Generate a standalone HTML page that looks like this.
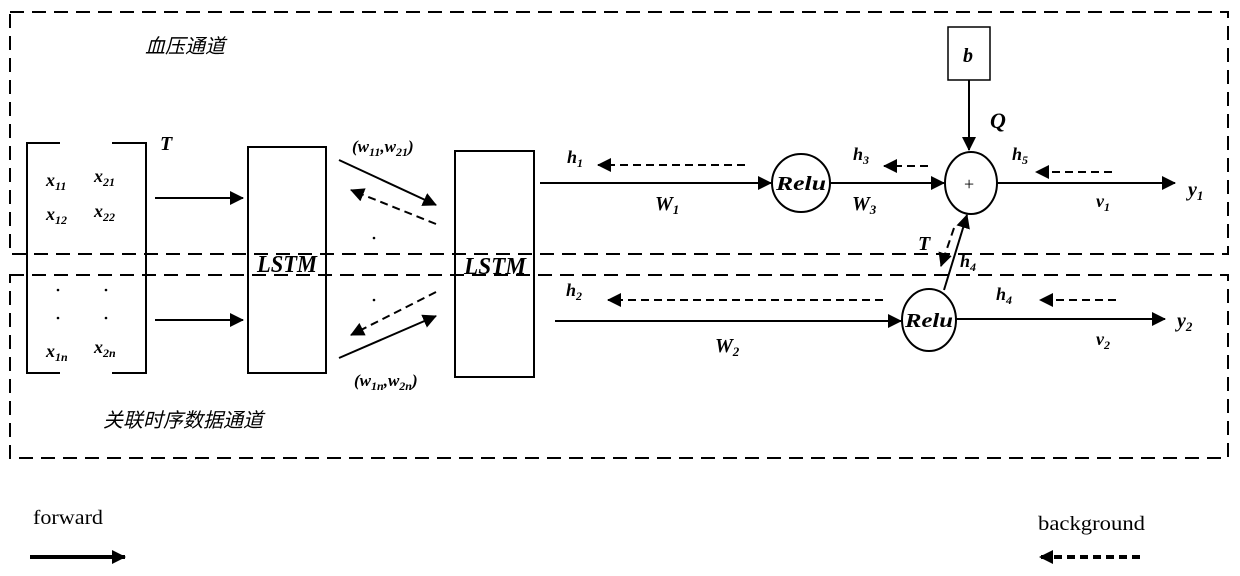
<!DOCTYPE html>
<html><head><meta charset="utf-8"><style>
html,body{margin:0;padding:0;background:#fff;}
svg{display:block;}
.l{font-family:"Liberation Serif",serif;font-style:italic;font-weight:bold;fill:#000;}
.c{font-family:"Liberation Sans","Noto Sans CJK SC",sans-serif;font-style:italic;fill:#000;}
.n{font-family:"Liberation Serif",serif;fill:#000;}
</style></head><body>
<svg width="1240" height="576" viewBox="0 0 1240 576" xmlns="http://www.w3.org/2000/svg">
<defs>
<marker id="b" markerWidth="14" markerHeight="14" refX="13" refY="7" orient="auto" markerUnits="userSpaceOnUse"><path d="M0,0 L14,7 L0,14 z" fill="#000"/></marker>
</defs>
<g fill="none" stroke="#000" stroke-width="2" stroke-dasharray="14,8">
<rect x="10" y="12" width="1218" height="242"/>
<rect x="10" y="275" width="1218" height="183"/>
</g>
<g fill="none" stroke="#000" stroke-width="2">
<path d="M60,143 H27 V373 H60"/>
<path d="M112,143 H146 V373 H112"/>
<rect x="248" y="147" width="78" height="226"/>
<rect x="455" y="151" width="79" height="226"/>
<rect x="948" y="27" width="42" height="53" stroke-width="1.5"/>
<ellipse cx="801" cy="183" rx="29" ry="29"/>
<ellipse cx="971" cy="183" rx="26" ry="31"/>
<ellipse cx="929" cy="320" rx="27" ry="31"/>
</g>
<g stroke="#000" stroke-width="2" fill="none" marker-end="url(#b)">
<line x1="155" y1="198" x2="243" y2="198"/>
<line x1="155" y1="320" x2="243" y2="320"/>
<line x1="339" y1="160" x2="436" y2="205"/>
<line x1="339" y1="358" x2="436" y2="316"/>
<line x1="540" y1="183" x2="771" y2="183"/>
<line x1="830" y1="183" x2="944" y2="183"/>
<line x1="997" y1="183" x2="1175" y2="183"/>
<line x1="969" y1="80" x2="969" y2="150"/>
<line x1="555" y1="321" x2="901" y2="321"/>
<line x1="956" y1="319" x2="1165" y2="319"/>
<line x1="944" y1="290" x2="967" y2="215"/>
<line x1="30" y1="557" x2="125" y2="557" stroke-width="4"/>
</g>
<g stroke="#000" stroke-width="2" fill="none" stroke-dasharray="8,5" marker-end="url(#b)">
<line x1="436" y1="224" x2="351" y2="190"/>
<line x1="436" y1="292" x2="351" y2="335"/>
<line x1="745" y1="165" x2="598" y2="165"/>
<line x1="928" y1="166" x2="884" y2="166"/>
<line x1="1112" y1="172" x2="1036" y2="172"/>
<line x1="883" y1="300" x2="608" y2="300"/>
<line x1="1116" y1="300" x2="1040" y2="300"/>
<line x1="954" y1="228" x2="941" y2="266"/>
<line x1="1140" y1="557" x2="1040" y2="557" stroke-width="4"/>
</g>
<g fill="#000"><circle cx="374" cy="238" r="1.3"/><circle cx="374" cy="300" r="1.3"/><circle cx="58" cy="290" r="1.3"/><circle cx="106" cy="290" r="1.3"/><circle cx="58" cy="318" r="1.3"/><circle cx="106" cy="318" r="1.3"/></g>
<text class="c" x="145" y="53" font-size="20">血压通道</text>
<text class="c" x="103" y="427" font-size="20">关联时序数据通道</text>
<text class="l" x="160" y="150" font-size="20">T</text>
<text class="l" x="46" y="186" font-size="18">x<tspan font-size="12" dy="4">11</tspan></text>
<text class="l" x="94" y="182" font-size="18">x<tspan font-size="12" dy="4">21</tspan></text>
<text class="l" x="46" y="220" font-size="18">x<tspan font-size="12" dy="4">12</tspan></text>
<text class="l" x="94" y="217" font-size="18">x<tspan font-size="12" dy="4">22</tspan></text>
<text class="l" x="46" y="357" font-size="18">x<tspan font-size="12" dy="4">1n</tspan></text>
<text class="l" x="94" y="353" font-size="18">x<tspan font-size="12" dy="4">2n</tspan></text>
<text class="l" x="257" y="272" font-size="24" textLength="60" lengthAdjust="spacingAndGlyphs">LSTM</text>
<text class="l" x="464" y="274" font-size="24" textLength="62" lengthAdjust="spacingAndGlyphs">LSTM</text>
<text class="l" x="352" y="152" font-size="17">(w<tspan font-size="12" dy="4">11</tspan><tspan dy="-4">,w</tspan><tspan font-size="12" dy="4">21</tspan><tspan dy="-4">)</tspan></text>
<text class="l" x="354" y="386" font-size="17">(w<tspan font-size="12" dy="4">1n</tspan><tspan dy="-4">,w</tspan><tspan font-size="12" dy="4">2n</tspan><tspan dy="-4">)</tspan></text>
<text class="l" x="776" y="190" font-size="20" textLength="50" lengthAdjust="spacingAndGlyphs">Relu</text>
<text class="l" x="905" y="327" font-size="20" textLength="48" lengthAdjust="spacingAndGlyphs">Relu</text>
<text class="n" x="964" y="190" font-size="18">+</text>
<text class="l" x="963" y="62" font-size="20">b</text>
<text class="l" x="990" y="128" font-size="22">Q</text>
<text class="l" x="567" y="163" font-size="18">h<tspan font-size="12" dy="4">1</tspan></text>
<text class="l" x="853" y="160" font-size="18">h<tspan font-size="12" dy="4">3</tspan></text>
<text class="l" x="1012" y="160" font-size="18">h<tspan font-size="12" dy="4">5</tspan></text>
<text class="l" x="655" y="210" font-size="20">W<tspan font-size="13" dy="4">1</tspan></text>
<text class="l" x="852" y="210" font-size="20">W<tspan font-size="13" dy="4">3</tspan></text>
<text class="l" x="1096" y="207" font-size="18">v<tspan font-size="12" dy="4">1</tspan></text>
<text class="l" x="1188" y="196" font-size="20">y<tspan font-size="13" dy="4">1</tspan></text>
<text class="l" x="918" y="250" font-size="20">T</text>
<text class="l" x="960" y="267" font-size="18">h<tspan font-size="12" dy="4">4</tspan></text>
<text class="l" x="566" y="296" font-size="18">h<tspan font-size="12" dy="4">2</tspan></text>
<text class="l" x="996" y="300" font-size="18">h<tspan font-size="12" dy="4">4</tspan></text>
<text class="l" x="715" y="352" font-size="20">W<tspan font-size="13" dy="4">2</tspan></text>
<text class="l" x="1096" y="345" font-size="18">v<tspan font-size="12" dy="4">2</tspan></text>
<text class="l" x="1177" y="327" font-size="20">y<tspan font-size="13" dy="4">2</tspan></text>
<text class="n" x="33" y="524" font-size="20" textLength="70" lengthAdjust="spacingAndGlyphs">forward</text>
<text class="n" x="1038" y="530" font-size="20" textLength="107" lengthAdjust="spacingAndGlyphs">background</text>
</svg>
</body></html>
